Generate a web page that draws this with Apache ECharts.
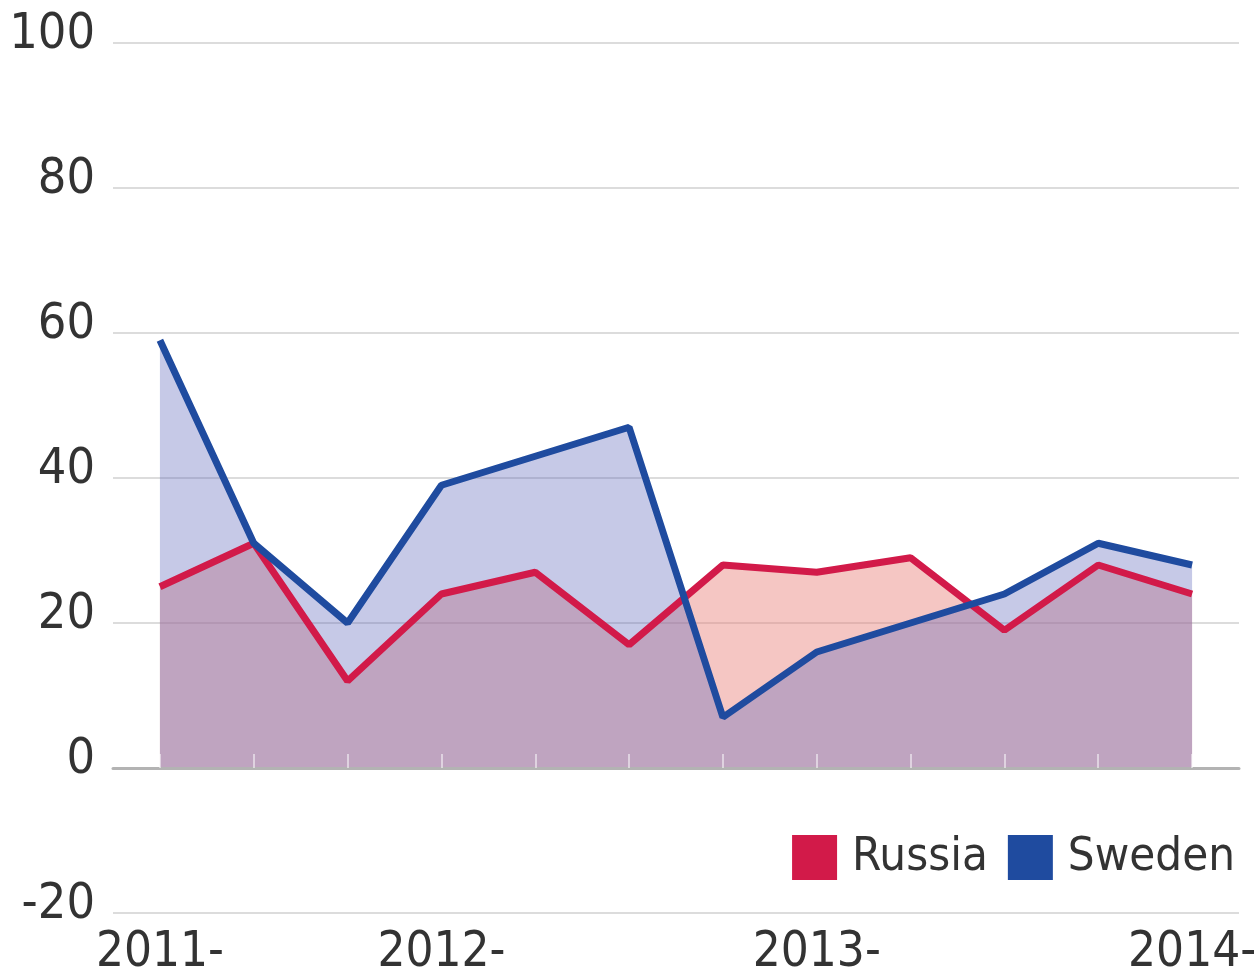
<!DOCTYPE html>
<html>
<head>
<meta charset="utf-8">
<script src="https://cdn.jsdelivr.net/npm/echarts@6/dist/echarts.min.js"></script>
<style>
html, body { margin: 0; padding: 0; background: #fff; }
#chart { width: 1255px; height: 974px; }
</style>
</head>
<body>
<div id="chart"></div>
<script>
// quarters, only some of them get a label
var categories = ['2011-Q1', '2011-Q2', '2011-Q3', '2012-Q1', '2012-Q2', '2012-Q3', '2012-Q4', '2013-Q1', '2013-Q2', '2013-Q3', '2013-Q4', '2014-Q1'];
var tickLabels = { 0: '2011-', 3: '2012-', 7: '2013-', 11: '2014-' };
var russia = [25, 31, 12, 24, 27, 17, 28, 27, 29, 19, 28, 24];
var sweden = [59, 31, 20, 39, 43, 47, 7, 16, 20, 24, 31, 28];

var font = '"DejaVu Sans Condensed", "DejaVu Sans", sans-serif';
var red = '#d21a49', blue = '#1f4b9f';

var myChart = echarts.init(document.getElementById('chart'));

var option = {
    backgroundColor: '#fff',
    animation: false,
    grid: { left: 113, right: 16, top: 43, bottom: 61, outerBoundsMode: 'none' },
    legend: {
        right: 15,
        top: 829,
        itemWidth: 45,
        itemHeight: 45,
        itemGap: 20,
        icon: 'rect',
        textStyle: { fontFamily: font, fontSize: 47, color: '#333', padding: [0, 0, 0, 10] },
        data: ['Russia', 'Sweden']
    },
    xAxis: [
        {
            type: 'category',
            data: categories,
            boundaryGap: true,
            z: 5,
            axisLine: { onZero: true, lineStyle: { color: '#b3b3b3', width: 3 } },
            axisTick: { show: true, inside: true, alignWithLabel: true, length: 14, lineStyle: { color: 'rgba(255,255,255,0.5)', width: 2 } },
            axisLabel: { show: false }
        },
        {
            type: 'category',
            data: categories,
            boundaryGap: true,
            position: 'bottom',
            axisLine: { show: false, onZero: false },
            axisTick: { show: false },
            axisLabel: {
                interval: function (index) { return tickLabels[index] !== undefined; },
                formatter: function (value, index) { return tickLabels[index] || ''; },
                fontFamily: font,
                fontSize: 49,
                color: '#333',
                margin: 16
            }
        }
    ],
    yAxis: {
        type: 'value',
        min: -20,
        max: 100,
        interval: 20,
        axisLine: { show: false },
        axisTick: { show: false },
        axisLabel: {
            fontFamily: font,
            fontSize: 50,
            color: '#333',
            margin: 18,
            verticalAlign: 'bottom',
            lineHeight: 16
        },
        splitLine: { lineStyle: { color: '#dcdcdc', width: 2 } }
    },
    series: [
        // filled areas first, lines on top so they keep their own colour
        {
            name: 'Russia area',
            type: 'line',
            data: russia,
            symbol: 'none',
            z: 2,
            lineStyle: { width: 0 },
            areaStyle: { color: 'rgba(232,128,122,0.45)', opacity: 1 },
            silent: true
        },
        {
            name: 'Sweden area',
            type: 'line',
            data: sweden,
            symbol: 'none',
            z: 2,
            lineStyle: { width: 0 },
            areaStyle: { color: 'rgba(92,100,186,0.35)', opacity: 1 },
            silent: true
        },
        {
            name: 'Russia',
            type: 'line',
            data: russia,
            symbol: 'none',
            z: 3,
            color: red,
            lineStyle: { color: red, width: 7 }
        },
        {
            name: 'Sweden',
            type: 'line',
            data: sweden,
            symbol: 'none',
            z: 4,
            color: blue,
            lineStyle: { color: blue, width: 7 }
        }
    ]
};

myChart.setOption(option);
</script>
</body>
</html>
